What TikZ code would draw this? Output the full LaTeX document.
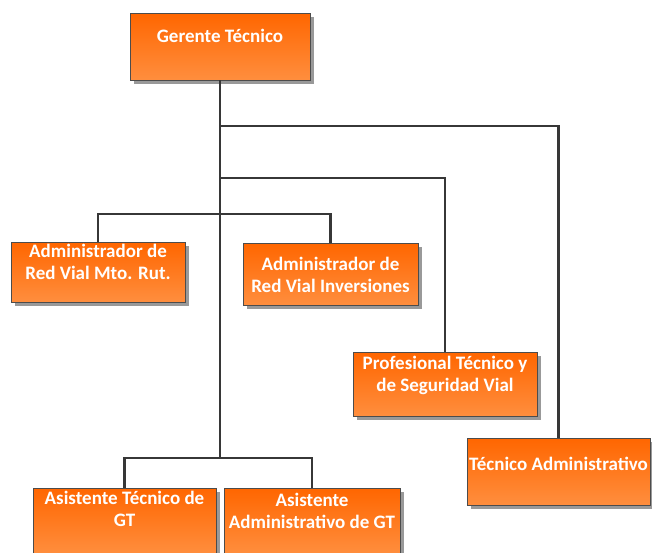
\documentclass[tikz,border=0pt]{standalone}
\usepackage{fontspec}
\setmainfont{Carlito}
\usetikzlibrary{shadows}
\definecolor{orgtop}{RGB}{255,102,0}
\definecolor{orgbot}{RGB}{255,142,62}
\definecolor{linegray}{RGB}{55,55,55}

\begin{document}
\begin{tikzpicture}[x=1pt,y=-1pt,
  unit/.style={rectangle,draw=black!70,line width=0.8pt,top color=orgtop,bottom color=orgbot,
    drop shadow={shadow xshift=4pt,shadow yshift=-4pt,fill=black!40,opacity=1},inner sep=0pt},
  txt/.style={text=white,font=\fontsize{19}{22}\selectfont\bfseries,align=center,inner sep=0pt},
  conn/.style={draw=linegray,line width=2.8pt}]

\clip (0,0) rectangle (652,552);

\node[unit,minimum width=180,minimum height=67] (gt) at (220,46.5) {};
\node[txt] (gt-t) at (220,36) {Gerente Técnico};

\node[unit,minimum width=174,minimum height=60] (mto) at (98,272) {};
\node[txt] (mto-t) at (98,261.5) {Administrador de\\Red Vial Mto. Rut.};

\node[unit,minimum width=175,minimum height=62] (inv) at (330.5,274) {};
\node[txt] (inv-t) at (330.5,274.5) {Administrador de\\Red Vial Inversiones};

\node[unit,minimum width=184,minimum height=64] (pro) at (445,384) {};
\node[txt] (pro-t) at (445,375) {Profesional Técnico y\\de Seguridad Vial};

\node[unit,minimum width=183,minimum height=67] (tad) at (558.5,471.5) {};
\node[txt] (tad-t) at (558.5,463.5) {Técnico Administrativo};

\node[unit,minimum width=183,minimum height=66] (ast) at (124.5,521) {};
\node[txt] (ast-t) at (124.5,508.5) {Asistente Técnico de\\GT};

\node[unit,minimum width=176,minimum height=66] (aad) at (312,521) {};
\node[txt] (aad-t) at (312,511) {Asistente\\Administrativo de GT};

\coordinate (j1) at (220,126);
\coordinate (j2) at (220,178);
\coordinate (j3) at (220,214);
\coordinate (j4) at (220,458);

\draw[conn] (gt.south) -- (j4);
\draw[conn] (tad.north) |- (j1);
\draw[conn] (pro.north) |- (j2);
\draw[conn] (mto.north) |- (j3) -| (inv.north);
\draw[conn] (ast.north) |- (j4) -| (aad.north);

\end{tikzpicture}
\end{document}
